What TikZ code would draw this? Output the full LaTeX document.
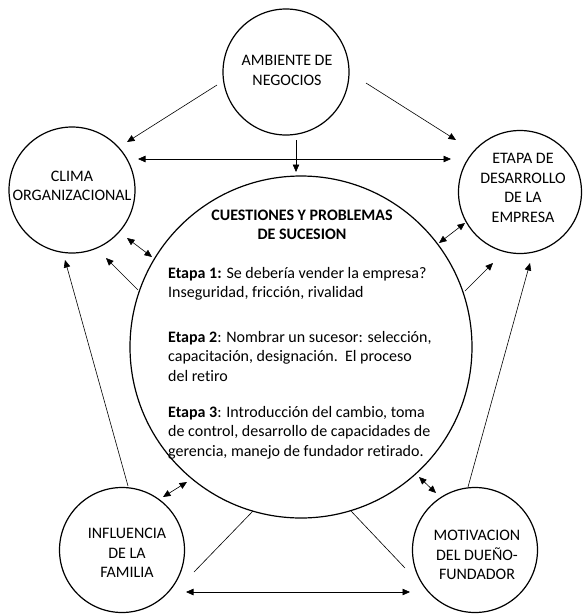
\documentclass[tikz,border=0pt]{standalone}
\usepackage{fontspec}
\setmainfont{Carlito}[Ligatures=NoCommon]
\usetikzlibrary{arrows.meta,calc}
\begin{document}
\begin{tikzpicture}[x=1pt,y=-1pt,
  bubble/.style={draw, circle, line width=1.2pt, inner sep=0pt},
  ctext/.style={align=center, inner sep=0pt, font=\fontsize{16}{19.5}\selectfont},
  para/.style={align=left, inner sep=0pt, anchor=base west, font=\fontsize{16}{19.5}\selectfont},
  link/.style={line width=0.6pt},
  tip/.tip={Triangle[length=7.5pt,width=6.5pt]},
  arr/.style={link, -tip},
  dbl/.style={link, tip-tip},
]
\useasboundingbox (0,0) rectangle (582,614);

% circles
\node[bubble, minimum size=126pt] (amb)   at (286,72)  {};
\node[bubble, minimum size=126pt] (clima) at (72,190)  {};
\node[bubble, minimum size=123pt] (etapa) at (520,192) {};
\node[bubble, minimum size=342pt] (big)   at (301,347) {};
\node[bubble, minimum size=125pt] (infl)  at (122,550) {};
\node[bubble, minimum size=125pt] (motiv) at (475,550) {};

% circle texts
\node[ctext] (ambt)   at (287,70.5) {AMBIENTE DE\\NEGOCIOS};
\node[ctext] (climat) at (72,186)   {CLIMA\\ORGANIZACIONAL};
\node[ctext] (etapat) at (523,188)  {ETAPA DE\\DESARROLLO\\DE LA\\EMPRESA};
\node[ctext] (inflt)  at (127,553)  {INFLUENCIA\\DE LA\\FAMILIA};
\node[ctext] (motivt) at (477,555)  {MOTIVACION\\DEL DUEÑO-\\FUNDADOR};

% central text (base anchor sits on the last line)
\node[ctext, font=\fontsize{16}{19.5}\selectfont\bfseries] (title) at (302,225)
  {CUESTIONES Y PROBLEMAS\\DE SUCESION};
\node[para] (p1) at (168,297.5)
  {\textbf{Etapa 1:} Se debería vender la empresa?\\Inseguridad, fricción, rivalidad};
\node[para] (p2) at (168,381)
  {\textbf{Etapa 2}: Nombrar un sucesor: selección,\\capacitación, designación.\ \ El proceso\\del retiro};
\node[para] (p3) at (168,456)
  {\textbf{Etapa 3}: Introducción del cambio, toma\\de control, desarrollo de capacidades de\\gerencia, manejo de fundador retirado.};

% connectors
\draw[arr] ($(amb)+(-69,13)$) -- ($(clima)+(55,-48)$);
\draw[arr] ($(amb)+(80,11)$)  -- ($(etapa)+(-64,-52)$);
\draw[arr] ($(amb)+(10,68)$)  -- ($(big)+(-5,-175)$);
\draw[dbl] ($(clima)+(66,-31)$) -- ($(etapa)+(-69,-33)$);
\draw[dbl] ($(clima)+(55,48)$)  -- ($(big)+(-149,-90)$);
\draw[arr] ($(big)+(-163,-57)$) -- ($(clima)+(34,68)$);
\draw[dbl] ($(big)+(138,-104)$) -- ($(etapa)+(-55,31)$);
\draw[arr] ($(big)+(164,-56)$)  -- ($(etapa)+(-27,71)$);
\draw[arr] ($(infl)+(6,-64)$)   -- ($(clima)+(-7,70)$);
\draw[arr] ($(motiv)+(-7,-63)$) -- ($(etapa)+(10,71)$);
\draw[dbl] ($(big)+(-114,135)$) -- ($(infl)+(41,-53)$);
\draw[dbl] ($(big)+(118,130)$)  -- ($(motiv)+(-39,-57)$);
\draw[link] ($(big)+(-48,164)$) -- ($(infl)+(72,22)$);
\draw[link] ($(big)+(50,164)$)  -- ($(motiv)+(-70,18)$);
\draw[dbl] ($(infl)+(64,42)$)   -- ($(motiv)+(-65,42)$);
\end{tikzpicture}
\end{document}
